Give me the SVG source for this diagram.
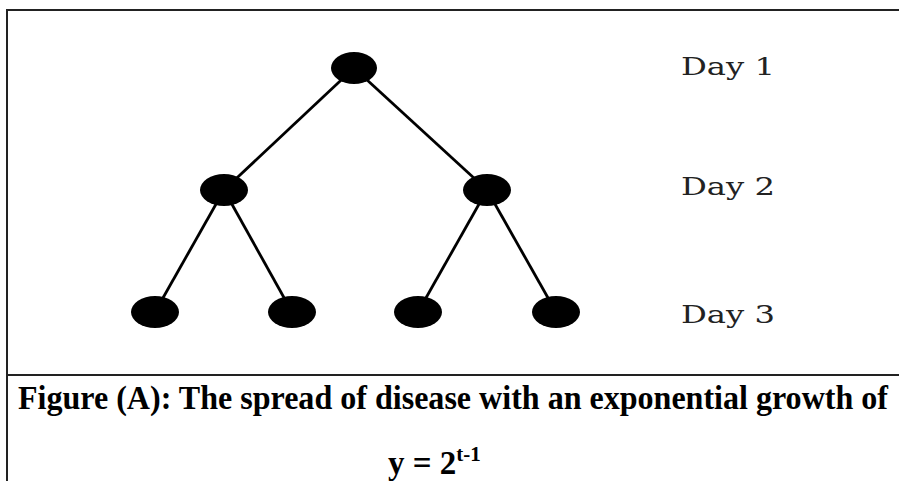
<svg xmlns="http://www.w3.org/2000/svg" width="899" height="481" viewBox="0 0 899 481">
<style>
.edge{stroke:#000;stroke-width:2.8;fill:none}
.node{fill:#000}
.day{font-family:"DejaVu Serif","Liberation Serif",serif;font-size:25px;fill:#222}
.cap{font-family:"Liberation Serif",serif;font-weight:bold;font-size:29px;fill:#000}
.border{stroke:#222;stroke-width:2;fill:none}
</style>
<rect width="899" height="481" fill="#fff"/>
<g id="frame">
<path class="border" d="M7,481 V10 H899"/>
<path class="border" d="M7,375 H899"/>
</g>
<g id="connectors">
<line class="edge" x1="354" y1="68" x2="224" y2="190"/>
<line class="edge" x1="354" y1="68" x2="487" y2="190"/>
<line class="edge" x1="224" y1="190" x2="155" y2="312"/>
<line class="edge" x1="224" y1="190" x2="292" y2="312"/>
<line class="edge" x1="487" y1="190" x2="418" y2="312"/>
<line class="edge" x1="487" y1="190" x2="556" y2="312"/>
</g>
<g id="n1"><ellipse class="node" cx="354" cy="68" rx="23" ry="16"/></g>
<g id="n2"><ellipse class="node" cx="224" cy="190" rx="24" ry="16"/></g>
<g id="n3"><ellipse class="node" cx="487" cy="190" rx="24" ry="16"/></g>
<g id="n4"><ellipse class="node" cx="155" cy="312" rx="24" ry="16"/></g>
<g id="n5"><ellipse class="node" cx="292" cy="312" rx="24" ry="16"/></g>
<g id="n6"><ellipse class="node" cx="418" cy="312" rx="24" ry="16"/></g>
<g id="n7"><ellipse class="node" cx="556" cy="312" rx="24" ry="16"/></g>
<g id="labels">
<text class="day" x="681" y="75" textLength="94" lengthAdjust="spacingAndGlyphs">Day 1</text>
<text class="day" x="681" y="195" textLength="94" lengthAdjust="spacingAndGlyphs">Day 2</text>
<text class="day" x="681" y="323" textLength="94" lengthAdjust="spacingAndGlyphs">Day 3</text>
</g>
<g id="caption">
<text class="cap" x="18" y="409" textLength="870" lengthAdjust="spacingAndGlyphs" transform="translate(0,409) scale(1,1.14) translate(0,-409)">Figure (A): The spread of disease with an exponential growth of</text>
<text class="cap" x="388" y="474" style="font-size:33px">y = 2<tspan style="font-size:21px" dy="-13">t-1</tspan></text>
</g>
</svg>
